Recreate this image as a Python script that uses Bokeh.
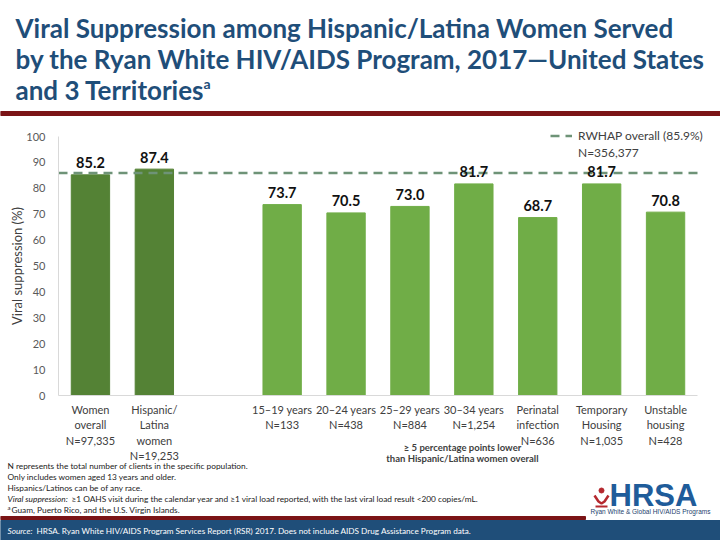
from bokeh.plotting import figure
from bokeh.models import Range1d, FixedTicker, Legend, LegendItem, ColumnDataSource
from bokeh.embed import file_html
from bokeh.resources import INLINE
from bokeh.core.properties import value

# ---------------- data ----------------
title_lines = [
    "Viral Suppression among Hispanic/Latina Women Served",
    "by the Ryan White HIV/AIDS Program, 2017\u2014United States",
    "and 3 Territories",
]
title_sup = "a"
categories = [
    "Women\noverall\nN=97,335",
    "Hispanic/\nLatina\nwomen\nN=19,253",
    "15\u201319 years\nN=133",
    "20\u201324 years\nN=438",
    "25\u201329 years\nN=884",
    "30\u201334 years\nN=1,254",
    "Perinatal\ninfection\nN=636",
    "Temporary\nHousing\nN=1,035",
    "Unstable\nhousing\nN=428",
]
positions = [0, 1, 3, 4, 5, 6, 7, 8, 9]
suppression = [85.2, 87.4, 73.7, 70.5, 73.0, 81.7, 68.7, 81.7, 70.8]
groups = ["overall", "overall", "sub", "sub", "sub", "sub", "sub", "sub", "sub"]
overall_value = 85.9
overall_label = "RWHAP overall (85.9%)"
overall_n = "N=356,377"
y_ticks = list(range(0, 101, 10))
note_lower = ["\u2265 5 percentage points lower", "than Hispanic/Latina women overall"]
footnotes = [
    "N represents the total number of clients in the specific population.",
    "Only includes women aged 13 years and older.",
    "Hispanics/Latinos can be of any race.",
]
vs_italic = "Viral suppression:"
vs_text = ("\u22651 OAHS visit during the calendar year and \u22651 viral load reported, "
           "with the last viral load result <200 copies/mL.")
territories = "Guam, Puerto Rico, and the U.S. Virgin Islands."
source_italic = "Source:"
source_text = ("HRSA. Ryan White HIV/AIDS Program Services Report (RSR) 2017. "
               "Does not include AIDS Drug Assistance Program data.")
logo_big = "HRSA"
logo_small = "Ryan White & Global HIV/AIDS Programs"

# ---------------- style / layout ----------------
W, H = 720, 540
FONT = "Lato"
DARK_BLUE = "#1F4E79"
DARK_RED = "#7b1416"
group_colors = {"overall": "#548235", "sub": "#70AD47"}

# chart geometry on the page: x=-0.5 at 58px, 63.9 px per category slot;
# y=0 at 395px, 2.59 px per percentage point
PX_X, X0_PAGE = 63.9, 58.0
PX_Y, Y0_PAGE = 2.59, 395.0
x_start = -0.5 - X0_PAGE / PX_X
x_end = -0.5 + (W - X0_PAGE) / PX_X
y_start = -(H - Y0_PAGE) / PX_Y
y_end = Y0_PAGE / PX_Y

p = figure(width=W, height=H, x_range=Range1d(x_start, x_end), y_range=Range1d(y_start, y_end),
           output_backend="svg", toolbar_location=None, min_border=0)
p.extra_x_ranges = {"px": Range1d(0, W)}
p.extra_y_ranges = {"px": Range1d(H, 0)}
p.grid.visible = False
p.outline_line_color = None
PX = dict(x_range_name="px", y_range_name="px")

# ---- title strip ----
p.text(x=[15, 15, 15], y=[27, 58, 89], text=title_lines, text_font=value(FONT),
       text_font_style="bold", text_font_size="26px", text_color=DARK_BLUE,
       text_baseline="middle", **PX)
p.text(x=[203], y=[83], text=[title_sup], text_font=value(FONT), text_font_style="bold",
       text_font_size="14px", text_color=DARK_BLUE, text_baseline="middle", **PX)
p.quad(left=0, right=W, top=111, bottom=115, color=DARK_RED, **PX)

# ---- bars ----
src = ColumnDataSource(dict(
    x=positions, v=suppression,
    lbl=["%.1f" % v for v in suppression],
    color=[group_colors[g] for g in groups],
))
p.vbar(x="x", top="v", width=0.6, color="color", source=src)

ref = p.line(x=[-0.5, 9.5], y=[overall_value, overall_value], line_color="#6e9377",
             line_width=2.5, line_dash="9 6")
ghost = p.line(x=[-0.5, 9.5], y=[overall_value, overall_value], line_alpha=0)

p.text(x="x", y="v", text="lbl", source=src, y_offset=-12, text_align="center",
       text_baseline="middle", text_font=value(FONT), text_font_style="bold",
       text_font_size="14.5px", text_color="#111111")

# ---- axes (fixed inside the full-page frame) ----
p.yaxis.fixed_location = -0.5
p.yaxis.bounds = (0, 100)
p.yaxis.ticker = FixedTicker(ticks=y_ticks)
p.yaxis.axis_label = "Viral suppression (%)"
p.yaxis.axis_label_text_font = FONT
p.yaxis.axis_label_text_font_style = "normal"
p.yaxis.axis_label_text_font_size = "13px"
p.yaxis.axis_label_text_color = "#404040"
p.yaxis.axis_label_standoff = -2
p.yaxis.major_label_text_font = FONT
p.yaxis.major_label_text_font_size = "11px"
p.yaxis.major_label_text_color = "#595959"
p.yaxis.major_label_standoff = 7

p.xaxis.fixed_location = 0
p.xaxis.bounds = (-0.5, 9.5)
p.xaxis.ticker = FixedTicker(ticks=positions)
p.xaxis.major_label_overrides = {pos: lab for pos, lab in zip(positions, categories)}
p.xaxis.major_label_text_font = FONT
p.xaxis.major_label_text_font_size = "11px"
p.xaxis.major_label_text_color = "#404040"
p.xaxis.major_label_standoff = 1

for ax in (p.xaxis, p.yaxis):
    ax.axis_line_color = "#d9d9d9"
    ax.major_tick_line_color = None
    ax.minor_tick_line_color = None

# ---- legend for the overall reference line ----
legend = Legend(items=[LegendItem(label=overall_label, renderers=[ref]),
                       LegendItem(label=overall_n, renderers=[ghost])],
                location=(550, 380), orientation="vertical",
                padding=0, margin=0, spacing=2, glyph_width=22, glyph_height=13,
                label_height=13, label_standoff=6, border_line_color=None,
                background_fill_alpha=0, label_text_font=FONT,
                label_text_font_size="12px", label_text_color="#404040")
p.add_layout(legend)

# ---- note below the subgroup bars ----
p.text(x=[462, 462], y=[447, 458], text=note_lower, text_align="center",
       text_baseline="middle", text_font=value(FONT), text_font_style="bold",
       text_font_size="9.5px", text_color="#404040", **PX)

# ---- footnotes ----
NOTE = dict(text_baseline="middle", text_font=value(FONT), text_font_size="8.3px",
            text_color="#222222")
p.text(x=[7, 7, 7], y=[465, 476, 487], text=footnotes, **NOTE, **PX)
p.text(x=[7], y=[498], text=[vs_italic], text_font_style="italic", **NOTE, **PX)
p.text(x=[71], y=[498], text=[vs_text], **NOTE, **PX)
p.text(x=[7], y=[507], text=["a"], text_baseline="middle", text_font=value(FONT),
       text_font_size="6px", text_color="#222222", **PX)
p.text(x=[11], y=[509], text=[territories], **NOTE, **PX)

# ---- HRSA logo ----
p.circle(x=[601], y=[490], radius=2.5, color="#b5282e", **PX)
p.line(x=[594, 598, 601, 604, 608], y=[495, 501, 503, 501, 495], line_color="#b5282e",
       line_width=2.5, **PX)
p.line(x=[595, 607], y=[506, 506], line_color="#b5282e", line_width=2, **PX)
p.text(x=[609], y=[495], text=[logo_big], text_baseline="middle",
       text_font=value("Liberation Sans"), text_font_style="bold",
       text_font_size="31px", text_color="#1f5c9a", **PX)
p.text(x=[590], y=[511], text=[logo_small], text_baseline="middle",
       text_font=value("Liberation Sans"), text_font_size="6.5px",
       text_color="#1c3f6e", **PX)

# ---- footer ----
p.quad(left=0, right=585, top=516, bottom=519, color=DARK_RED, **PX)
p.quad(left=0, right=W, top=520, bottom=H, color=DARK_BLUE, **PX)
p.text(x=[7], y=[530], text=[source_italic], text_font=value(FONT), text_font_style="italic",
       text_font_size="8.2px", text_color="white", text_baseline="middle", **PX)
p.text(x=[36], y=[530], text=[source_text], text_font=value(FONT),
       text_font_size="8.2px", text_color="white", text_baseline="middle", **PX)

open("out.html", "w").write(file_html(p, INLINE))
